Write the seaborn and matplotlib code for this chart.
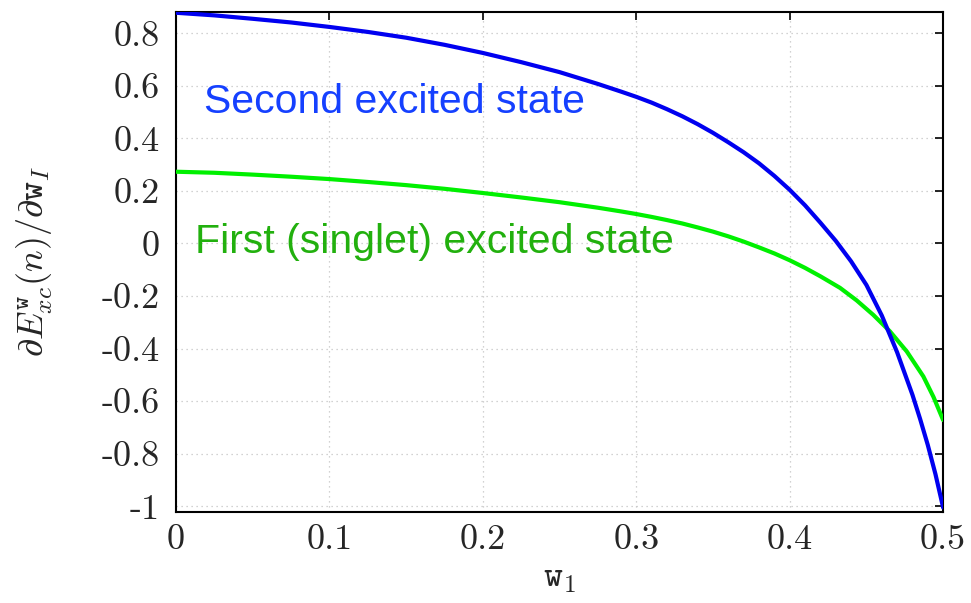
import numpy as np
import pandas as pd
import matplotlib
matplotlib.use("Agg")
import matplotlib.pyplot as plt
import seaborn as sns

# ---- data ----
w1_second = [0.0, 0.025, 0.05, 0.075, 0.10, 0.125, 0.15, 0.175, 0.20, 0.225, 0.25,
             0.275, 0.29, 0.30, 0.31, 0.32, 0.33, 0.34, 0.35, 0.36, 0.37, 0.38, 0.39,
             0.40, 0.41, 0.42, 0.43, 0.44, 0.45, 0.46, 0.47, 0.48, 0.485, 0.49,
             0.495, 0.50]
second_excited = [0.878, 0.868, 0.855, 0.841, 0.824, 0.805, 0.783, 0.756, 0.725,
                  0.690, 0.652, 0.607, 0.578, 0.558, 0.536, 0.511, 0.484, 0.454, 0.421,
                  0.385, 0.347, 0.305, 0.257, 0.204, 0.145, 0.079, 0.010, -0.068,
                  -0.158, -0.274, -0.414, -0.576, -0.668, -0.767, -0.878, -1.005]
w1_first = [0.0, 0.025, 0.05, 0.075, 0.10, 0.125, 0.15, 0.175, 0.20, 0.225, 0.25,
            0.275, 0.29, 0.30, 0.31, 0.32, 0.33, 0.34, 0.35, 0.36, 0.37, 0.38, 0.39,
            0.40, 0.41, 0.42, 0.4328, 0.4437, 0.4545, 0.4654, 0.4763,
            0.4871, 0.4937, 0.50]
first_excited = [0.273, 0.269, 0.262, 0.254, 0.245, 0.234, 0.222, 0.208, 0.192,
                 0.175, 0.157, 0.136, 0.122, 0.112, 0.101, 0.089, 0.076, 0.061, 0.045,
                 0.027, 0.007, -0.015, -0.038, -0.064, -0.093, -0.125,
                 -0.169, -0.217, -0.272, -0.335, -0.411, -0.506, -0.584, -0.672]
xticks = [0.0, 0.1, 0.2, 0.3, 0.4, 0.5]
xtick_labels = ["0", "0.1", "0.2", "0.3", "0.4", "0.5"]
yticks = [-1.0, -0.8, -0.6, -0.4, -0.2, 0.0, 0.2, 0.4, 0.6, 0.8]
ytick_labels = ["-1", "-0.8", "-0.6", "-0.4", "-0.2", "0", "0.2", "0.4", "0.6", "0.8"]
label_second = "Second excited state"
label_first = "First (singlet) excited state"

df_second = pd.DataFrame({"w1": w1_second, "value": second_excited})
df_first = pd.DataFrame({"w1": w1_first, "value": first_excited})

sns.set_theme(style="white")
plt.rcParams["mathtext.fontset"] = "cm"
plt.rcParams["font.family"] = ["Liberation Sans", "DejaVu Sans"]

fig = plt.figure(figsize=(9.71, 6.03), dpi=100)
ax = fig.add_axes([0.1813, 0.1509, 0.790, 0.8297])

sns.lineplot(data=df_first, x="w1", y="value", ax=ax, color="#00f000", linewidth=3.0,
             sort=False, estimator=None, zorder=3)
sns.lineplot(data=df_second, x="w1", y="value", ax=ax, color="#0000f0", linewidth=3.0,
             sort=False, estimator=None, zorder=4)

ax.set_xlim(0, 0.5)
ax.set_ylim(-1.022, 0.882)
ax.set_xticks(xticks)
ax.set_xticklabels(xtick_labels, fontfamily="cmr10", fontsize=26)
ax.set_yticks(yticks)
ax.set_yticklabels(ytick_labels, fontfamily="cmr10", fontsize=26)
ax.tick_params(axis="both", direction="in", top=True, right=True,
               length=6, width=1.2, color="black")
ax.tick_params(axis="y", pad=12)
ax.tick_params(axis="x", pad=9)

ax.grid(True, linestyle=(0, (1, 3)), color="#c4c4c4", linewidth=0.9)
for sp in ax.spines.values():
    sp.set_color("black")
    sp.set_linewidth(1.5)
    sp.set_visible(True)

ax.set_xlabel(r"$\mathtt{w}_1$", fontsize=26, labelpad=3)
ax.set_ylabel(r"$\partial E_{xc}^{\mathtt{w}}(n)/\partial \mathtt{w}_I$", fontsize=26)
ax.yaxis.set_label_coords(-0.158, 0.5)

ax.text(0.018, 0.496, label_second, color="#1540ff", fontsize=29.5,
        va="baseline", ha="left", zorder=5)
ax.text(0.0124, -0.037, label_first, color="#22b00e", fontsize=29.5,
        va="baseline", ha="left", zorder=5)

fig.savefig("out.png", dpi=100)
